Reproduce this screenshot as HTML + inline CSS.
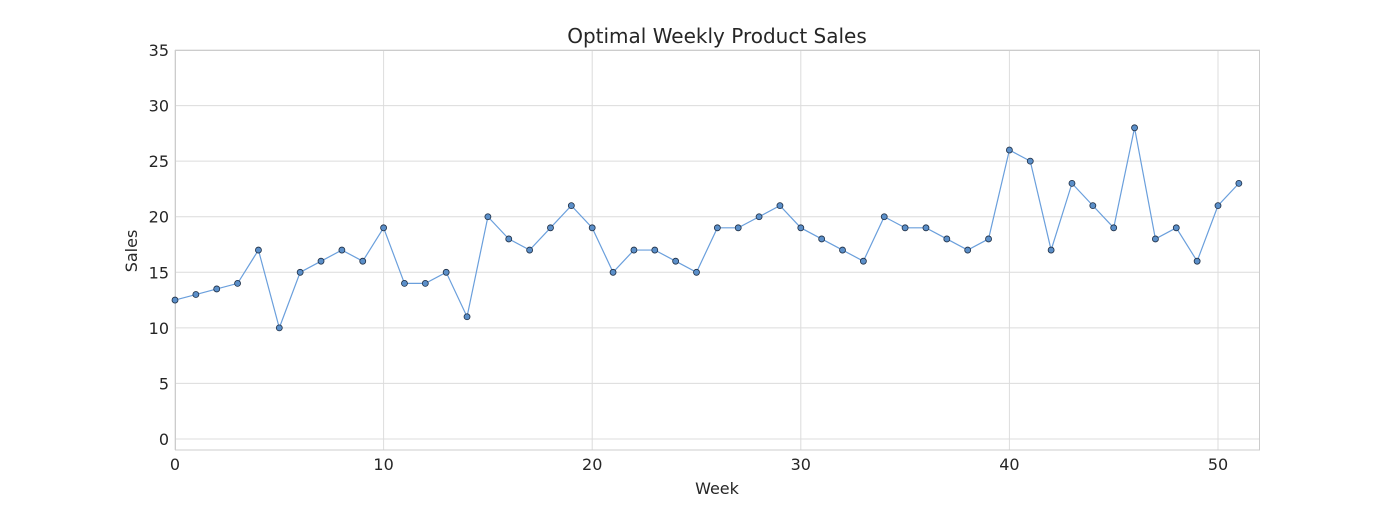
<!DOCTYPE html>
<html><head><meta charset="utf-8"><style>
html,body{margin:0;padding:0;background:#fff;}
svg text{font-family:"DejaVu Sans","Liberation Sans",sans-serif;fill:#262626;}
</style></head><body>
<svg id="c" width="1400" height="500" xmlns="http://www.w3.org/2000/svg">
<rect x="0" y="0" width="1400" height="500" fill="#fff"/>
<g id="grid"></g>
<rect x="175.5" y="50.5" width="1084" height="399.5" fill="none" stroke="#cccccc" stroke-width="1"/>
<g id="data"></g>
<text x="717" y="43" font-size="20" text-anchor="middle">Optimal Weekly Product Sales</text>
<text x="717" y="494" font-size="16" text-anchor="middle">Week</text>
<text x="137" y="251" font-size="16" text-anchor="middle" transform="rotate(-90 137 251)">Sales</text>
</svg>
<script>
var d=[12.5,13,13.5,14,17,10,15,16,17,16,19,14,14,15,11,20,18,17,19,21,19,15,17,17,16,15,19,19,20,21,19,18,17,16,20,19,19,18,17,18,26,25,17,23,21,19,28,18,19,16,21,23];
function X(v){return 175+v*20.86;}function Y(v){return 439-v*11.114;}
var g=document.getElementById('grid'),h='';
for(var i=0;i<=50;i+=10){var x=X(i);h+='<line x1="'+x+'" y1="50" x2="'+x+'" y2="450" stroke="#dcdcdc"/>';h+='<text x="'+x+'" y="470" font-size="16" text-anchor="middle">'+i+'</text>';}
for(var j=0;j<=35;j+=5){var y=Y(j);h+='<line x1="175" y1="'+y+'" x2="1260" y2="'+y+'" stroke="#dcdcdc"/>';h+='<text x="169" y="'+(y+6)+'" font-size="16" text-anchor="end">'+j+'</text>';}
g.innerHTML=h;
var p='',c='';
for(var k=0;k<d.length;k++){p+=(k?' ':'')+X(k)+','+Y(d[k]);c+='<circle cx="'+X(k)+'" cy="'+Y(d[k])+'" r="3" fill="#5b8fc9" stroke="#1f2f45" stroke-width="0.8"/>';}
document.getElementById('data').innerHTML='<polyline points="'+p+'" fill="none" stroke="#6a9fdc" stroke-width="1.2"/>'+c;
</script>
</body></html>
